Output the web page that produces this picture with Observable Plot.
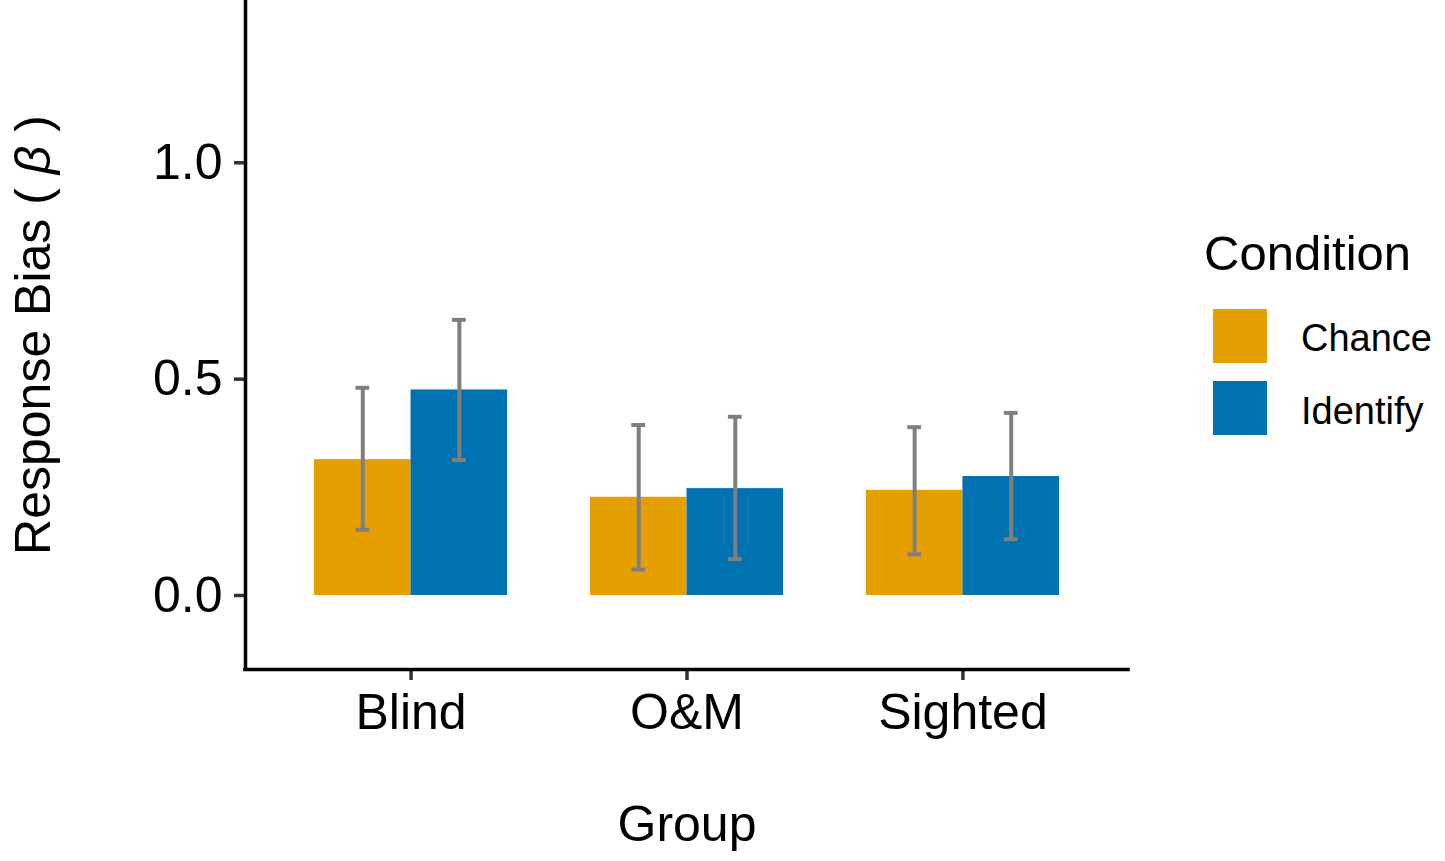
<!DOCTYPE html>
<html>
<head>
<meta charset="utf-8">
<script src="https://cdn.jsdelivr.net/npm/d3@7"></script>
<script src="https://cdn.jsdelivr.net/npm/@observablehq/plot@0.6"></script>
<style>
  body { margin: 0; background: #fff; }
  #chart { position: relative; width: 1445px; height: 861px; }
  #chart svg g[aria-label*="axis"] path,
  #chart svg g[aria-label*="axis"] line { stroke: #333; stroke-width: 3.5px; }
</style>
</head>
<body>
<div id="chart"></div>
<script>
// ---- data ----
const groups = ["Blind", "O&M", "Sighted"];
const conditions = ["Chance", "Identify"];
const conditionColors = ["#E69F00", "#0072B2"];
const chanceMean = [0.314, 0.227, 0.243];
const identifyMean = [0.475, 0.247, 0.275];
const chanceLower = [0.152, 0.060, 0.095];
const chanceUpper = [0.480, 0.394, 0.389];
const identifyLower = [0.313, 0.084, 0.130];
const identifyUpper = [0.637, 0.413, 0.422];
const yTicks = [0.0, 0.5, 1.0];
const xTicks = [1, 2, 3];

// ---- layout constants ----
const dodge = 0.7;
const capHalf = 0.025;
const xDomain = [0.4, 3.6];
const yDomain = [-0.171, 1.375];
const font = "'Liberation Sans', Arial, sans-serif";

const means = [chanceMean, identifyMean];
const lowers = [chanceLower, identifyLower];
const uppers = [chanceUpper, identifyUpper];
const rows = [];
groups.forEach((g, i) => conditions.forEach((c, j) => {
  const x1 = (i + 1) - dodge / 2 + j * dodge / 2;
  rows.push({group: g, condition: c, x1, x2: x1 + dodge / 2, xc: x1 + dodge / 4,
             mean: means[j][i], lo: lowers[j][i], hi: uppers[j][i]});
}));

const errStyle = {stroke: "#7f7f7f", strokeWidth: 4};
const axisLine = {stroke: "black", strokeWidth: 3.5, strokeLinecap: "square"};

const svg = Plot.plot({
  width: 1445,
  height: 861,
  marginLeft: 245,
  marginRight: 317,
  marginTop: 0,
  marginBottom: 192,
  style: {fontFamily: font, fontSize: "50px", background: "white", color: "black", overflow: "visible"},
  x: {type: "linear", domain: xDomain, ticks: xTicks, tickFormat: d => groups[d - 1],
      tickSize: 11, tickPadding: 13, label: null},
  y: {domain: yDomain, ticks: yTicks, tickFormat: d3.format(".1f"),
      tickSize: 11, tickPadding: 12, label: null},
  color: {domain: conditions, range: conditionColors},
  marks: [
    Plot.rectY(rows, {x1: "x1", x2: "x2", y: "mean", fill: "condition"}),
    Plot.ruleX(rows, {x: "xc", y1: "lo", y2: "hi", ...errStyle}),
    Plot.ruleY(rows, {y: "lo", x1: d => d.xc - capHalf, x2: d => d.xc + capHalf, ...errStyle}),
    Plot.ruleY(rows, {y: "hi", x1: d => d.xc - capHalf, x2: d => d.xc + capHalf, ...errStyle}),
    Plot.ruleX([xDomain[0]], {y1: yDomain[0], y2: yDomain[1], ...axisLine}),
    Plot.ruleY([yDomain[0]], {x1: xDomain[0], x2: xDomain[1], ...axisLine}),
    Plot.text(["Group"], {frameAnchor: "bottom", dy: 171, fontSize: 50, fill: "black", textAnchor: "middle"}),
    Plot.text(["Response Bias ( β )"], {frameAnchor: "left", rotate: -90, dx: -212, fontSize: 50, fill: "black", textAnchor: "middle"})
  ]
});

const root = d3.select(svg);

// italic beta in y title
root.selectAll("text").filter(function() { return this.textContent === "Response Bias ( β )"; })
  .each(function() {
    const t = d3.select(this);
    t.text(null).attr("text-anchor", "middle");
    t.append("tspan").text("Response Bias ( ");
    t.append("tspan").attr("font-style", "italic").text("β");
    t.append("tspan").text(" )");
  });

// legend
const lg = root.append("g").attr("font-family", font).attr("fill", "black").attr("text-anchor", "start");
lg.append("text").attr("x", 1204).attr("y", 270).attr("font-size", 49).text("Condition");
conditions.forEach((c, j) => {
  lg.append("rect").attr("x", 1213).attr("y", 309 + j * 72).attr("width", 54).attr("height", 54)
    .attr("fill", conditionColors[j]);
  lg.append("text").attr("x", 1301).attr("y", 351 + j * 73).attr("font-size", 38).text(c);
});

document.getElementById("chart").appendChild(svg);
</script>
</body>
</html>
